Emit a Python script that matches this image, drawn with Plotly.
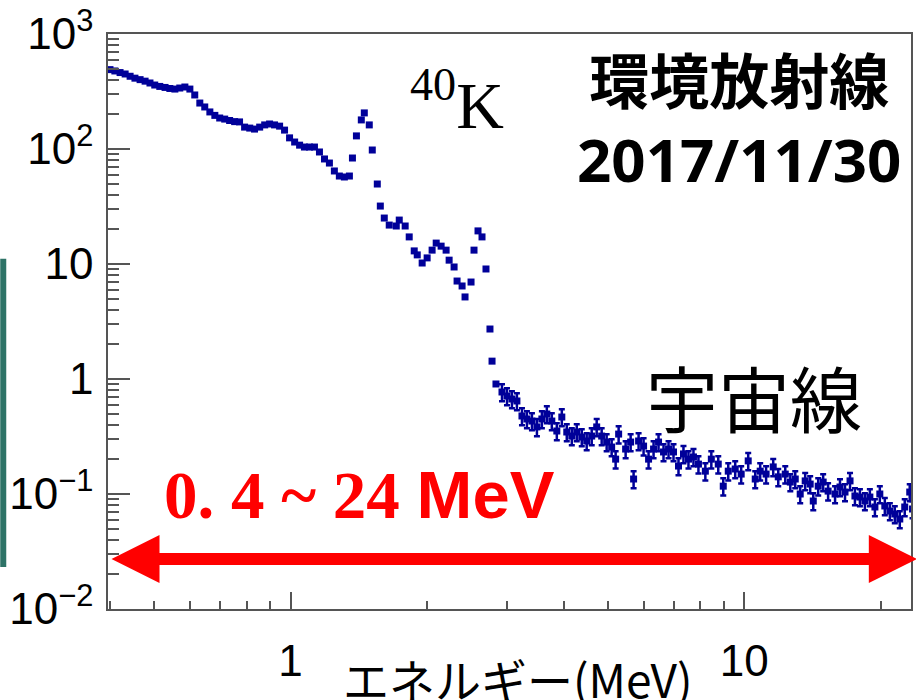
import numpy as np
import plotly.graph_objects as go

# ---------------- data ----------------
energy_low = [0.400, 0.410, 0.421, 0.432, 0.443, 0.454, 0.466, 0.478, 0.490, 0.502,
              0.515, 0.529, 0.542, 0.556, 0.570, 0.585, 0.600, 0.615, 0.631, 0.647,
              0.664, 0.681, 0.698, 0.716, 0.734, 0.753, 0.772, 0.792, 0.813, 0.833,
              0.855, 0.877, 0.899, 0.922, 0.946, 0.970, 0.995, 1.021, 1.047, 1.073,
              1.101, 1.129, 1.158, 1.188, 1.218, 1.249, 1.281, 1.314, 1.348]
counts_low = [490, 477, 462, 449, 429, 413, 401, 389, 375, 360,
              350, 343, 336, 332, 339, 346, 332, 295, 251, 232,
              210, 196, 186, 182, 177, 173, 172, 155, 152, 149,
              155, 162, 165, 162, 158, 146, 125, 115, 108, 104,
              104, 104, 94.2, 81.9, 75.5, 64.4, 58.2, 57.1, 58.2]

energy_mid = [1.369, 1.397, 1.432, 1.454, 1.491, 1.514, 1.553, 1.577, 1.609, 1.650,
              1.710, 1.736, 1.789, 1.826, 1.873, 1.902, 1.950, 2.000, 2.051, 2.094,
              2.147, 2.202, 2.236, 2.293, 2.328, 2.388, 2.424, 2.499, 2.537, 2.589,
              2.642, 2.696, 2.751, 2.780, 2.836]
counts_mid = [83.5, 130, 179, 206, 162, 98, 49.6, 31.9, 25.1, 21.8,
              21.4, 24.1, 21.4, 17.2, 13.0, 12.0, 10.2, 11.3, 13.2, 15.2,
              14.3, 13.2, 10.8, 9.42, 7.11, 6.44, 5.17, 6.97, 13.2, 19.4,
              17.2, 9.05, 2.72, 1.43, 0.905]

energy_high = [2.924, 2.999, 3.075, 3.154, 3.236, 3.318, 3.404, 3.491, 3.580, 3.671,
               3.765, 3.862, 3.961, 4.062, 4.167, 4.273, 4.383, 4.494, 4.610, 4.728,
               4.849, 4.973, 5.101, 5.205, 5.285, 5.476, 5.617, 5.702, 5.848, 5.998,
               6.152, 6.310, 6.471, 6.637, 6.808, 6.982, 7.161, 7.344, 7.533, 7.726,
               7.924, 8.206, 8.459, 8.762, 8.987, 9.218, 9.549, 9.843, 10.20, 10.57,
               10.84, 11.17, 11.58, 11.88, 12.31, 12.63, 12.95, 13.28, 13.62, 13.97,
               14.19, 14.55, 14.92, 15.30, 15.85, 16.25, 16.67, 17.10, 17.53, 17.98,
               18.44, 18.91, 19.40, 19.89, 20.40, 20.93, 21.46, 22.01, 22.57, 23.15,
               23.48]
counts_high = [0.771, 0.711, 0.670, 0.644, 0.477, 0.449, 0.431, 0.383, 0.449, 0.496,
               0.431, 0.353, 0.467, 0.346, 0.319, 0.346, 0.313, 0.289, 0.319, 0.383,
               0.319, 0.283, 0.256, 0.201, 0.332, 0.246, 0.283, 0.135, 0.289, 0.261,
               0.201, 0.246, 0.283, 0.232, 0.246, 0.232, 0.175, 0.223, 0.201, 0.210,
               0.182, 0.158, 0.201, 0.182, 0.117, 0.158, 0.165, 0.149, 0.194, 0.135,
               0.158, 0.149, 0.172, 0.141, 0.149, 0.127, 0.135, 0.100, 0.130, 0.122,
               0.0869, 0.117, 0.127, 0.106, 0.100, 0.115, 0.104, 0.130, 0.0961, 0.0941,
               0.0869, 0.0941, 0.0771, 0.100, 0.0787, 0.0711, 0.0670, 0.0606, 0.0771, 0.104,
               0.0741]
error_pct_high = 17

x_ticks = [1, 10]
x_ticktext = ["1", "10"]
x_minor = [0.4, 0.5, 0.6, 0.7, 0.8, 0.9, 2, 3, 4, 5, 6, 7, 8, 9, 20]
y_ticks = [0.01, 0.1, 1, 10, 100, 1000]
y_ticktext = ["10<sup>\u22122</sup>", "10<sup>\u22121</sup>", "1", "10",
              "10<sup>2</sup>", "10<sup>3</sup>"]
y_minor = [m * 10.0 ** e for e in range(-2, 3) for m in range(2, 10)]

range_lo, range_hi = 0.4, 24      # energy span marked by the arrow
arrow_level = 0.0272              # counts level at which the arrow is drawn

BLUE = "#000099"
AXC = "#555555"
TICKFONT = dict(family="Liberation Sans, Arial, sans-serif", size=44, color="black")

fig = go.Figure()
fig.add_trace(go.Scatter(
    x=energy_low + energy_mid, y=counts_low + counts_mid, mode="markers",
    marker=dict(symbol="square", size=7, color=BLUE), showlegend=False))
fig.add_trace(go.Scatter(
    x=energy_high, y=counts_high, mode="markers",
    marker=dict(symbol="square", size=7, color=BLUE),
    error_y=dict(type="percent", value=error_pct_high, color=BLUE, thickness=2.5, width=3),
    showlegend=False))

fig.update_layout(
    width=916, height=700,
    margin=dict(l=108, r=3, t=33, b=91),
    paper_bgcolor="white", plot_bgcolor="white",
    xaxis=dict(type="log", range=[np.log10(0.396), np.log10(23.3)],
               tickvals=x_ticks, ticktext=x_ticktext, ticks="inside", ticklen=17,
               tickwidth=1.5, tickcolor=AXC, showline=True, linecolor=AXC, linewidth=1.5,
               mirror=True, showgrid=False, zeroline=False, tickfont=TICKFONT,
               ticklabelstandoff=12,
               minor=dict(tickvals=x_minor, ticks="inside", ticklen=8, tickwidth=1.5,
                          tickcolor=AXC, showgrid=False)),
    yaxis=dict(type="log", range=[-2, 3],
               tickvals=y_ticks, ticktext=y_ticktext, ticks="inside", ticklen=22,
               tickwidth=1.5, tickcolor=AXC, showline=True, linecolor=AXC, linewidth=1.5,
               mirror=True, showgrid=False, zeroline=False, tickfont=TICKFONT,
               ticklabelstandoff=4,
               minor=dict(tickvals=y_minor, ticks="inside", ticklen=11, tickwidth=1.5,
                          tickcolor=AXC, showgrid=False)),
)

# green strip at the far left (slide background)
fig.add_shape(type="rect", xref="paper", yref="paper", x0=-0.1342, x1=-0.1267,
              y0=0.073, y1=0.609, fillcolor="#2e7367", line=dict(width=0), layer="above")

CJK = "Noto Sans CJK JP"
fig.add_annotation(xref="paper", yref="paper", x=0.786, y=0.855, xanchor="center",
                   yanchor="middle", showarrow=False, align="center",
                   text=("<b>環境放射線</b><br>"
                         "<b><span style='font-family:Noto Sans'>2017/11/30</span></b>"),
                   font=dict(family=CJK, size=60, color="black"))
fig.add_annotation(xref="paper", yref="paper", x=0.804, y=0.371, xanchor="center",
                   yanchor="middle", showarrow=False,
                   text="宇宙線", font=dict(family=CJK, size=72, color="black"))
fig.add_annotation(xref="paper", yref="paper", x=0.435, y=0.885, xanchor="center",
                   yanchor="middle", showarrow=False,
                   text="<sup>40</sup>K", font=dict(family="Liberation Serif", size=66, color="black"))
fig.add_annotation(xref="paper", yref="paper", x=0.067, y=0.2, xanchor="left",
                   yanchor="middle", showarrow=False,
                   text=("<b>0. 4 ~ 24 </b><b><span style='font-family:Liberation Sans'>MeV</span></b>"),
                   font=dict(family="Liberation Serif", size=67, color="red"))
fig.add_annotation(xref="paper", yref="paper", x=0.51, y=-0.12, xanchor="center",
                   yanchor="middle", showarrow=False,
                   text="エネルギー(MeV)", font=dict(family=CJK, size=46, color="black"))

# double arrow spanning the energy range
fig.add_annotation(xref="x", yref="y", axref="x", ayref="y",
                   x=np.log10(range_hi), y=np.log10(arrow_level),
                   ax=np.log10(range_lo), ay=np.log10(arrow_level),
                   text="", showarrow=True, arrowside="end+start",
                   arrowhead=2, startarrowhead=2, arrowsize=0.8, startarrowsize=0.8,
                   arrowwidth=12, arrowcolor="red", standoff=0, startstandoff=0)

fig.write_html("out.html")
